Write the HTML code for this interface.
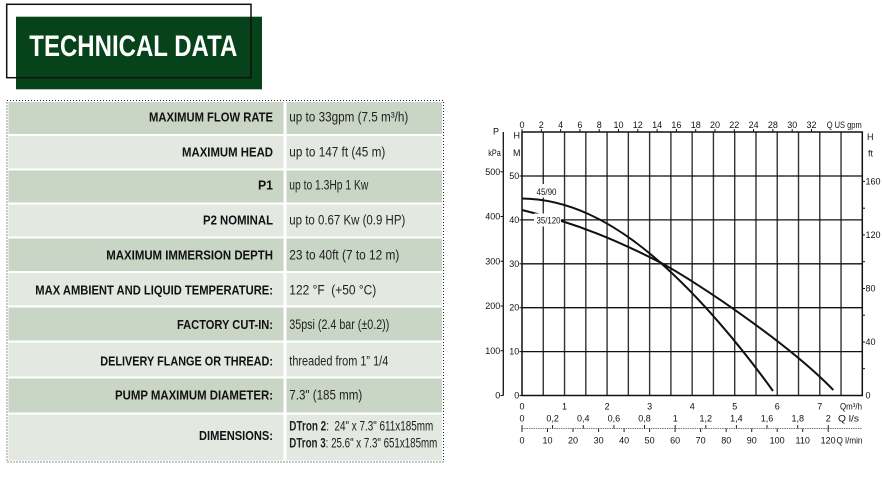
<!DOCTYPE html>
<html><head><meta charset="utf-8"><style>
html,body{margin:0;padding:0;background:#fff;}
svg{display:block;}
.lab{font-family:"Liberation Sans",sans-serif;font-weight:bold;font-size:13px;fill:#111;}
.val{font-family:"Liberation Sans",sans-serif;font-size:13.5px;fill:#222;}
.c{font-family:"Liberation Sans",sans-serif;font-size:9px;fill:#111;}
</style></head><body>
<svg width="882" height="480" viewBox="0 0 882 480" xmlns="http://www.w3.org/2000/svg">
<!-- header -->
<rect x="16" y="16.7" width="246" height="72.6" fill="#06431a"/>
<text x="29.3" y="56" font-family="Liberation Sans,sans-serif" font-weight="bold" font-size="30" fill="#fff" textLength="208" lengthAdjust="spacingAndGlyphs">TECHNICAL DATA</text>
<rect x="6.7" y="4.3" width="244.3" height="73.4" fill="none" stroke="#111" stroke-width="1.5"/>

<!-- table rows -->
<g>
<rect x="8.5" y="102" width="275" height="32" fill="#c9d5c5"/><rect x="286.5" y="102" width="155.5" height="32" fill="#c9d5c5"/>
<rect x="8.5" y="136" width="275" height="32.5" fill="#e3e8e1"/><rect x="286.5" y="136" width="155.5" height="32.5" fill="#e3e8e1"/>
<rect x="8.5" y="170.5" width="275" height="32" fill="#c9d5c5"/><rect x="286.5" y="170.5" width="155.5" height="32" fill="#c9d5c5"/>
<rect x="8.5" y="204.5" width="275" height="32" fill="#e3e8e1"/><rect x="286.5" y="204.5" width="155.5" height="32" fill="#e3e8e1"/>
<rect x="8.5" y="238.5" width="275" height="32.5" fill="#c9d5c5"/><rect x="286.5" y="238.5" width="155.5" height="32.5" fill="#c9d5c5"/>
<rect x="8.5" y="273" width="275" height="32.5" fill="#e3e8e1"/><rect x="286.5" y="273" width="155.5" height="32.5" fill="#e3e8e1"/>
<rect x="8.5" y="307.5" width="275" height="33" fill="#c9d5c5"/><rect x="286.5" y="307.5" width="155.5" height="33" fill="#c9d5c5"/>
<rect x="8.5" y="342.5" width="275" height="34" fill="#e3e8e1"/><rect x="286.5" y="342.5" width="155.5" height="34" fill="#e3e8e1"/>
<rect x="8.5" y="378.5" width="275" height="34" fill="#c9d5c5"/><rect x="286.5" y="378.5" width="155.5" height="34" fill="#c9d5c5"/>
<rect x="8.5" y="414.5" width="275" height="46" fill="#e3e8e1"/><rect x="286.5" y="414.5" width="155.5" height="46" fill="#e3e8e1"/>
</g>
<rect x="7" y="100.5" width="436.5" height="361.5" fill="none" stroke="#222" stroke-width="1" stroke-dasharray="1 2"/>

<!-- labels -->
<text class="lab" x="273" y="121.4" text-anchor="end" textLength="124" lengthAdjust="spacingAndGlyphs">MAXIMUM FLOW RATE</text>
<text class="lab" x="273" y="156.4" text-anchor="end" textLength="91" lengthAdjust="spacingAndGlyphs">MAXIMUM HEAD</text>
<text class="lab" x="273" y="189.7" text-anchor="end" textLength="15" lengthAdjust="spacingAndGlyphs">P1</text>
<text class="lab" x="273" y="224.7" text-anchor="end" textLength="70" lengthAdjust="spacingAndGlyphs">P2 NOMINAL</text>
<text class="lab" x="273" y="259.5" text-anchor="end" textLength="166.7" lengthAdjust="spacingAndGlyphs">MAXIMUM IMMERSION DEPTH</text>
<text class="lab" x="273" y="294.7" text-anchor="end" textLength="237.7" lengthAdjust="spacingAndGlyphs">MAX AMBIENT AND LIQUID TEMPERATURE:</text>
<text class="lab" x="273" y="329" text-anchor="end" textLength="96" lengthAdjust="spacingAndGlyphs">FACTORY CUT-IN:</text>
<text class="lab" x="273" y="365.7" text-anchor="end" textLength="172.7" lengthAdjust="spacingAndGlyphs">DELIVERY FLANGE OR THREAD:</text>
<text class="lab" x="273" y="399.7" text-anchor="end" textLength="158" lengthAdjust="spacingAndGlyphs">PUMP MAXIMUM DIAMETER:</text>
<text class="lab" x="273" y="440" text-anchor="end" textLength="74" lengthAdjust="spacingAndGlyphs">DIMENSIONS:</text>

<!-- values -->
<text class="val" x="289.3" y="121.4" textLength="119" lengthAdjust="spacingAndGlyphs">up to 33gpm (7.5 m³/h)</text>
<text class="val" x="289.3" y="156.4" textLength="96" lengthAdjust="spacingAndGlyphs">up to 147 ft (45 m)</text>
<text class="val" x="289.3" y="189.7" textLength="79" lengthAdjust="spacingAndGlyphs">up to 1.3Hp 1 Kw</text>
<text class="val" x="289.3" y="224.7" textLength="116" lengthAdjust="spacingAndGlyphs">up to 0.67 Kw (0.9 HP)</text>
<text class="val" x="289.3" y="259.5" textLength="110" lengthAdjust="spacingAndGlyphs">23 to 40ft (7 to 12 m)</text>
<text class="val" x="289.3" y="294.7" textLength="87" lengthAdjust="spacingAndGlyphs" xml:space="preserve">122 °F  (+50 °C)</text>
<text class="val" x="289.3" y="329" textLength="100" lengthAdjust="spacingAndGlyphs">35psi (2.4 bar (±0.2))</text>
<text class="val" x="289.3" y="365.7" textLength="99" lengthAdjust="spacingAndGlyphs">threaded from 1” 1/4</text>
<text class="val" x="289.3" y="399.7" textLength="73" lengthAdjust="spacingAndGlyphs">7.3" (185 mm)</text>
<text class="val" x="289.3" y="430.5" font-size="11" textLength="144" lengthAdjust="spacingAndGlyphs" xml:space="preserve"><tspan font-weight="bold">DTron 2</tspan>:  24" x 7.3" 611x185mm</text>
<text class="val" x="289.3" y="447.5" font-size="11" textLength="148" lengthAdjust="spacingAndGlyphs"><tspan font-weight="bold">DTron 3</tspan>: 25.6" x 7.3" 651x185mm</text>

<!-- CHART -->
<g stroke="#333" stroke-width="1.4">
<line x1="543.27" y1="132" x2="543.27" y2="395.5"/>
<line x1="564.54" y1="132" x2="564.54" y2="395.5"/>
<line x1="585.81" y1="132" x2="585.81" y2="395.5"/>
<line x1="607.08" y1="132" x2="607.08" y2="395.5"/>
<line x1="628.35" y1="132" x2="628.35" y2="395.5"/>
<line x1="649.62" y1="132" x2="649.62" y2="395.5"/>
<line x1="670.89" y1="132" x2="670.89" y2="395.5"/>
<line x1="692.16" y1="132" x2="692.16" y2="395.5"/>
<line x1="713.43" y1="132" x2="713.43" y2="395.5"/>
<line x1="734.7" y1="132" x2="734.7" y2="395.5"/>
<line x1="755.97" y1="132" x2="755.97" y2="395.5"/>
<line x1="777.24" y1="132" x2="777.24" y2="395.5"/>
<line x1="798.51" y1="132" x2="798.51" y2="395.5"/>
<line x1="819.78" y1="132" x2="819.78" y2="395.5"/>
<line x1="841.05" y1="132" x2="841.05" y2="395.5"/>
</g>
<g stroke="#111" stroke-width="1.3">
<line x1="522" y1="176" x2="862.3" y2="176"/>
<line x1="522" y1="219.9" x2="862.3" y2="219.9"/>
<line x1="522" y1="263.8" x2="862.3" y2="263.8"/>
<line x1="522" y1="307.7" x2="862.3" y2="307.7"/>
<line x1="522" y1="351.6" x2="862.3" y2="351.6"/>
</g>
<rect x="522" y="132" width="340.3" height="263.5" fill="none" stroke="#111" stroke-width="1.5"/>

<!-- curves -->
<g fill="none" stroke="#111" stroke-width="2">
<path d="M522,198.5 C565,199 610,218 660,262.3 C700,297.7 740,345 773,391"/>
<path d="M522,210 C580,224 620,242 660,262.3 C700,284 790,345 833.3,390"/>
</g>
<rect x="534" y="184" width="25" height="13.5" fill="#fff"/>
<text class="c" x="546.5" y="195" text-anchor="middle" font-size="9.5" textLength="20" lengthAdjust="spacingAndGlyphs">45/90</text>
<rect x="534" y="213.5" width="27" height="13" fill="#fff"/>
<text class="c" x="548.5" y="223.7" text-anchor="middle" font-size="9.5" textLength="24" lengthAdjust="spacingAndGlyphs">35/120</text>

<!-- top axis gpm -->
<g stroke="#111" stroke-width="1">
<line x1="522" y1="129" x2="522" y2="132"/><line x1="541.3" y1="129" x2="541.3" y2="132"/><line x1="560.6" y1="129" x2="560.6" y2="132"/><line x1="579.9" y1="129" x2="579.9" y2="132"/><line x1="599.2" y1="129" x2="599.2" y2="132"/><line x1="618.5" y1="129" x2="618.5" y2="132"/><line x1="637.8" y1="129" x2="637.8" y2="132"/><line x1="657.1" y1="129" x2="657.1" y2="132"/><line x1="676.4" y1="129" x2="676.4" y2="132"/><line x1="695.7" y1="129" x2="695.7" y2="132"/><line x1="715" y1="129" x2="715" y2="132"/><line x1="734.3" y1="129" x2="734.3" y2="132"/><line x1="753.6" y1="129" x2="753.6" y2="132"/><line x1="772.9" y1="129" x2="772.9" y2="132"/><line x1="792.2" y1="129" x2="792.2" y2="132"/><line x1="811.5" y1="129" x2="811.5" y2="132"/>
</g>
<g class="c" text-anchor="middle">
<text x="522" y="128">0</text><text x="541.3" y="128">2</text><text x="560.6" y="128">4</text><text x="579.9" y="128">6</text><text x="599.2" y="128">8</text><text x="618.5" y="128">10</text><text x="637.8" y="128">12</text><text x="657.1" y="128">14</text><text x="676.4" y="128">16</text><text x="695.7" y="128">18</text><text x="715" y="128">20</text><text x="734.3" y="128">22</text><text x="753.6" y="128">24</text><text x="772.9" y="128">28</text><text x="792.2" y="128">30</text><text x="811.5" y="128">32</text>
</g>
<text class="c" x="826.7" y="128" textLength="35" lengthAdjust="spacingAndGlyphs">Q US gpm</text>

<!-- left axes -->
<text class="c" x="496" y="134.5" text-anchor="middle">P</text>
<text class="c" x="488.3" y="155.8" textLength="12.4" lengthAdjust="spacingAndGlyphs">kPa</text>
<text class="c" x="516.7" y="138.5" text-anchor="middle">H</text>
<text class="c" x="516.7" y="156" text-anchor="middle">M</text>
<line x1="503.3" y1="132" x2="503.3" y2="395.5" stroke="#111" stroke-width="1.3"/>
<g stroke="#111" stroke-width="1">
<line x1="500.5" y1="395.5" x2="503.3" y2="395.5"/><line x1="500.5" y1="350.75" x2="503.3" y2="350.75"/><line x1="500.5" y1="306" x2="503.3" y2="306"/><line x1="500.5" y1="261.25" x2="503.3" y2="261.25"/><line x1="500.5" y1="216.5" x2="503.3" y2="216.5"/><line x1="500.5" y1="171.8" x2="503.3" y2="171.8"/>
<line x1="519.5" y1="395.5" x2="522" y2="395.5"/><line x1="519.5" y1="351.6" x2="522" y2="351.6"/><line x1="519.5" y1="307.7" x2="522" y2="307.7"/><line x1="519.5" y1="263.8" x2="522" y2="263.8"/><line x1="519.5" y1="219.9" x2="522" y2="219.9"/><line x1="519.5" y1="176" x2="522" y2="176"/>
</g>
<g class="c" text-anchor="end">
<text x="500.3" y="398.5">0</text><text x="500.3" y="353.8">100</text><text x="500.3" y="309">200</text><text x="500.3" y="264.3">300</text><text x="500.3" y="219.5">400</text><text x="500.3" y="174.8">500</text>
<text x="519.3" y="398.5">0</text><text x="519.3" y="354.6">10</text><text x="519.3" y="310.7">20</text><text x="519.3" y="266.8">30</text><text x="519.3" y="222.9">40</text><text x="519.3" y="179">50</text>
</g>

<!-- right axis ft -->
<text class="c" x="867" y="140">H</text>
<text class="c" x="868" y="156.5">ft</text>
<g stroke="#111" stroke-width="1">
<line x1="862.3" y1="368.7" x2="865" y2="368.7"/><line x1="862.3" y1="342" x2="865" y2="342"/><line x1="862.3" y1="315.2" x2="865" y2="315.2"/><line x1="862.3" y1="288.5" x2="865" y2="288.5"/><line x1="862.3" y1="261.7" x2="865" y2="261.7"/><line x1="862.3" y1="234.9" x2="865" y2="234.9"/><line x1="862.3" y1="208.2" x2="865" y2="208.2"/><line x1="862.3" y1="181.4" x2="865" y2="181.4"/>
</g>
<g class="c">
<text x="865.5" y="398.5">0</text><text x="865.5" y="345">40</text><text x="865.5" y="291.5">80</text><text x="865.5" y="237.9">120</text><text x="865.5" y="184.4">160</text>
</g>

<!-- bottom axes -->
<g class="c" text-anchor="middle">
<text x="522" y="409.5">0</text><text x="564.5" y="409.5">1</text><text x="607.1" y="409.5">2</text><text x="649.6" y="409.5">3</text><text x="692.2" y="409.5">4</text><text x="734.7" y="409.5">5</text><text x="777.2" y="409.5">6</text><text x="819.8" y="409.5">7</text>
<text x="522" y="421.5">0</text><text x="552.6" y="421.5">0,2</text><text x="583.3" y="421.5">0,4</text><text x="613.9" y="421.5">0,6</text><text x="644.5" y="421.5">0,8</text><text x="675.2" y="421.5">1</text><text x="705.8" y="421.5">1,2</text><text x="736.4" y="421.5">1,4</text><text x="767" y="421.5">1,6</text><text x="797.7" y="421.5">1,8</text><text x="828.3" y="421.5">2</text>
<text x="522" y="443.5">0</text><text x="547.5" y="443.5">10</text><text x="573" y="443.5">20</text><text x="598.6" y="443.5">30</text><text x="624.1" y="443.5">40</text><text x="649.6" y="443.5">50</text><text x="675.1" y="443.5">60</text><text x="700.6" y="443.5">70</text><text x="726.2" y="443.5">80</text><text x="751.7" y="443.5">90</text><text x="777.2" y="443.5">100</text><text x="802.7" y="443.5">110</text><text x="828.2" y="443.5">120</text>
</g>
<text class="c" x="840" y="409.5" textLength="22" lengthAdjust="spacingAndGlyphs">Qm³/h</text>
<text class="c" x="838" y="421.5" textLength="21" lengthAdjust="spacingAndGlyphs">Q l/s</text>
<text class="c" x="836.5" y="443.5" textLength="26" lengthAdjust="spacingAndGlyphs">Q l/min</text>
<line x1="522" y1="428.5" x2="862" y2="428.5" stroke="#777" stroke-width="1" stroke-dasharray="1.5 0.8"/>
<g stroke="#222" stroke-width="1">
<line x1="522" y1="425" x2="522" y2="432"/>
<line x1="552.6" y1="425" x2="552.6" y2="428.5"/><line x1="583.3" y1="425" x2="583.3" y2="428.5"/><line x1="613.9" y1="425" x2="613.9" y2="428.5"/><line x1="644.5" y1="425" x2="644.5" y2="428.5"/><line x1="675.2" y1="425" x2="675.2" y2="428.5"/><line x1="705.8" y1="425" x2="705.8" y2="428.5"/><line x1="736.4" y1="425" x2="736.4" y2="428.5"/><line x1="767" y1="425" x2="767" y2="428.5"/><line x1="797.7" y1="425" x2="797.7" y2="428.5"/><line x1="828.3" y1="425" x2="828.3" y2="428.5"/>
<line x1="547.5" y1="428.5" x2="547.5" y2="432"/><line x1="573" y1="428.5" x2="573" y2="432"/><line x1="598.6" y1="428.5" x2="598.6" y2="432"/><line x1="624.1" y1="428.5" x2="624.1" y2="432"/><line x1="649.6" y1="428.5" x2="649.6" y2="432"/><line x1="675.1" y1="428.5" x2="675.1" y2="432"/><line x1="700.6" y1="428.5" x2="700.6" y2="432"/><line x1="726.2" y1="428.5" x2="726.2" y2="432"/><line x1="751.7" y1="428.5" x2="751.7" y2="432"/><line x1="777.2" y1="428.5" x2="777.2" y2="432"/><line x1="802.7" y1="428.5" x2="802.7" y2="432"/><line x1="828.2" y1="428.5" x2="828.2" y2="432"/>
</g>
</svg>
</body></html>
